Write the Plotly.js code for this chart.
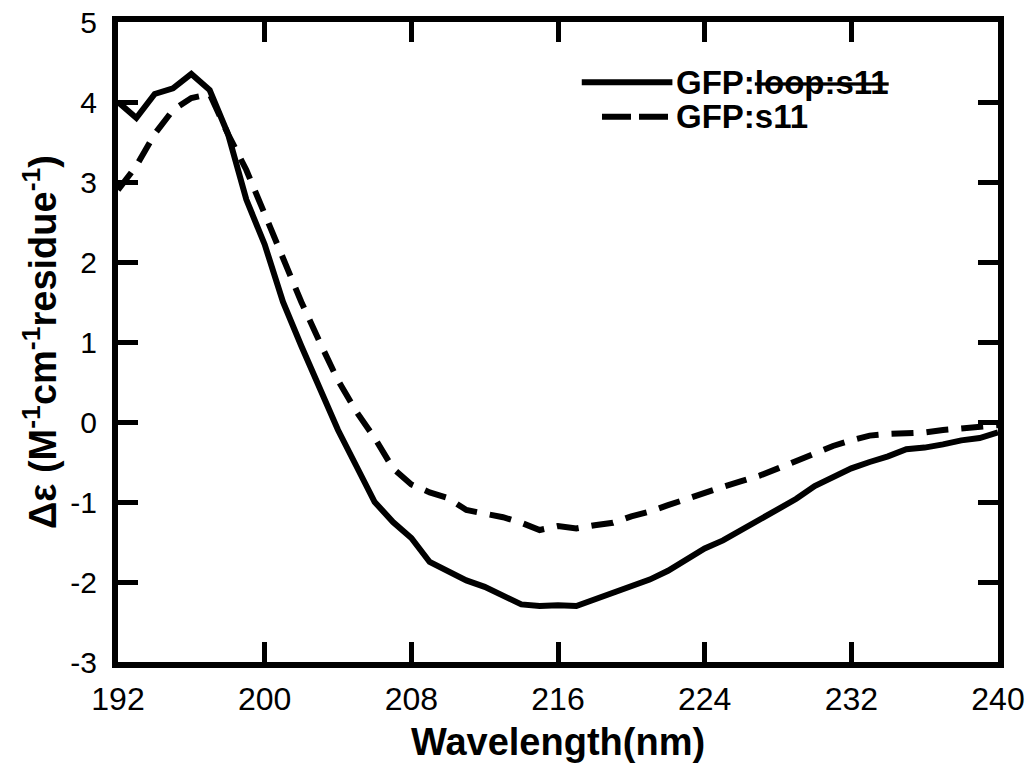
<!DOCTYPE html>
<html>
<head>
<meta charset="utf-8">
<script src="https://cdn.plot.ly/plotly-3.0.1.min.js"></script>
<style>
html,body{margin:0;padding:0;background:#fff;}
#chart{width:1029px;height:769px;}
</style>
</head>
<body>
<div id="chart"></div>
<script>
// Wavelength (nm)
const wavelength = [192,193,194,195,196,197,198,199,200,201,202,203,204,205,206,207,208,209,210,211,212,213,214,215,216,217,218,219,220,221,222,223,224,225,226,227,228,229,230,231,232,233,234,235,236,237,238,239,240];
// GFP:loop:s11 (solid)
const loopS11 = [4.0,3.8,4.1,4.17,4.35,4.15,3.6,2.78,2.22,1.5,0.95,0.42,-0.1,-0.55,-1.0,-1.25,-1.45,-1.75,-1.86,-1.98,-2.06,-2.18,-2.28,-2.3,-2.29,-2.3,-2.22,-2.14,-2.06,-1.97,-1.86,-1.72,-1.58,-1.48,-1.35,-1.22,-1.1,-0.96,-0.8,-0.68,-0.58,-0.5,-0.43,-0.34,-0.32,-0.28,-0.23,-0.2,-0.13];
// GFP:s11 (dashed)
const s11 = [2.9,3.2,3.6,3.9,4.05,4.1,3.6,3.15,2.6,2.05,1.5,1.0,0.52,0.13,-0.2,-0.58,-0.78,-0.88,-0.95,-1.1,-1.14,-1.19,-1.26,-1.35,-1.3,-1.33,-1.29,-1.26,-1.18,-1.12,-1.04,-0.96,-0.88,-0.81,-0.74,-0.67,-0.58,-0.48,-0.38,-0.3,-0.23,-0.17,-0.15,-0.14,-0.13,-0.1,-0.08,-0.05,-0.04];
const xTicks = [192,200,208,216,224,232,240];
const yTicks = [-3,-2,-1,0,1,2,3,4,5];
const seriesNames = ['GFP:<s>loop:s11</s>', 'GFP:s11'];

const traces = [
  {x: wavelength, y: loopS11, type: 'scatter', mode: 'lines', name: seriesNames[0],
   line: {color: '#000', width: 6}, showlegend: false},
  {x: wavelength, y: s11, type: 'scatter', mode: 'lines', name: seriesNames[1],
   line: {color: '#000', width: 6, dash: '22px,13px'}, showlegend: false}
];

const axisCommon = {
  showline: true, linecolor: '#000', linewidth: 6, mirror: 'ticks',
  ticks: 'inside', ticklen: 20, tickwidth: 5, tickcolor: '#000',
  showgrid: false, zeroline: false,
};

const layout = {
  width: 1029, height: 769,
  margin: {l: 118, r: 31, t: 22, b: 107},
  paper_bgcolor: '#fff', plot_bgcolor: '#fff',
  font: {family: 'Liberation Sans, Arial, sans-serif', color: '#000'},
  xaxis: Object.assign({}, axisCommon, {
    range: [192, 240], tickmode: 'array', tickvals: xTicks, ticktext: xTicks.map(String),
    tickfont: {size: 32, family: 'Liberation Sans, Arial, sans-serif'},
    ticklabelstandoff: 4,
    title: {text: '<b>Wavelength(nm)</b>', font: {size: 38}, standoff: 14}
  }),
  yaxis: Object.assign({}, axisCommon, {
    range: [-3, 5], tickmode: 'array', tickvals: yTicks, ticktext: yTicks.map(String),
    tickfont: {size: 30, family: 'Liberation Sans, Arial, sans-serif'},
    ticklabelstandoff: 9,
    title: {text: '<b>Δε (M<sup>-1</sup>cm<sup>-1</sup>residue<sup>-1</sup>)</b>', font: {size: 38}, standoff: 4}
  }),
  shapes: [
    {type: 'line', xref: 'paper', yref: 'paper', x0: 0.527, x1: 0.63, y0: 0.906, y1: 0.906,
     line: {color: '#000', width: 6}},
    {type: 'line', xref: 'paper', yref: 'paper', x0: 0.55, x1: 0.63, y0: 0.852, y1: 0.852,
     line: {color: '#000', width: 6, dash: '29px,8px'}}
  ],
  annotations: [
    {xref: 'paper', yref: 'paper', x: 0.632, y: 0.906, xanchor: 'left', yanchor: 'middle',
     text: '<b>' + seriesNames[0] + '</b>', showarrow: false, font: {size: 33, color: '#000'}},
    {xref: 'paper', yref: 'paper', x: 0.632, y: 0.852, xanchor: 'left', yanchor: 'middle',
     text: '<b>' + seriesNames[1] + '</b>', showarrow: false, font: {size: 33, color: '#000'}}
  ]
};

Plotly.newPlot('chart', traces, layout, {staticPlot: true, displayModeBar: false});
</script>
</body>
</html>
